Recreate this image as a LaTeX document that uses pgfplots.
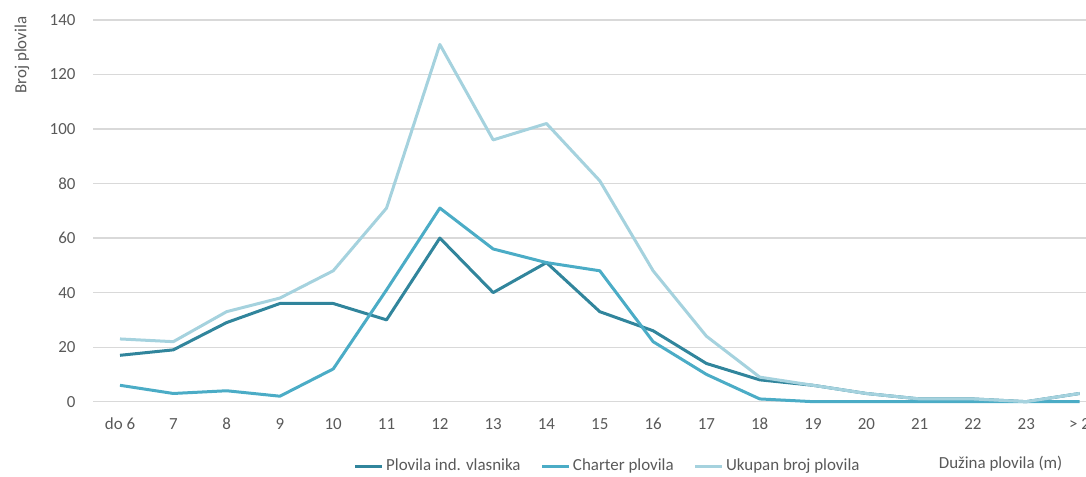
\documentclass[border=0pt]{standalone}
\usepackage{pgfplots}
\pgfplotsset{compat=1.18}
\usepackage{fontspec}
\setmainfont{Carlito}
\definecolor{cInd}{HTML}{31859C}
\definecolor{cCh}{HTML}{4BACC6}
\definecolor{cTot}{HTML}{A5D2DE}
\definecolor{cGrid}{HTML}{D9D9D9}
\definecolor{cTxt}{HTML}{595959}
\begin{document}
\fontsize{12.7pt}{15pt}\selectfont
\begin{tikzpicture}
\path[use as bounding box] (0,0) rectangle (814.5pt,357.75pt);
\begin{axis}[
  at={(70pt,56.5pt)}, anchor=south west,
  scale only axis, width=744.5pt, height=286.3pt,
  xmin=-0.5, xmax=18.12, ymin=0, ymax=140,
  ytick={0,20,...,140},
  xtick={0,...,18},
  xticklabels={do 6,7,8,9,10,11,12,13,14,15,16,17,18,19,20,21,22,23,> 2},
  axis line style={draw=none},
  major tick length=0pt,
  ymajorgrids, grid style={cGrid, line width=0.9pt},
  tick label style={font=\fontsize{12.7pt}{15pt}\selectfont, text=cTxt},
  /pgf/number format/assume math mode=true,
  yticklabel style={xshift=-9pt},
  xticklabel style={yshift=-8pt},
  ylabel={Broj plovila},
  ylabel style={at={(axis description cs:-0.0719,0.908)}, anchor=center, rotate=0, font=\fontsize{12.7pt}{15pt}\selectfont, text=cTxt},
  xlabel={Dužina plovila (m)},
  xlabel style={at={(axis description cs:0.914,-0.163)}, anchor=center, font=\fontsize{12.7pt}{15pt}\selectfont, text=cTxt},
  legend columns=3,
  legend style={at={(axis description cs:0.5185,-0.169)}, anchor=center, draw=none, fill=none,
    font=\fontsize{12.7pt}{15pt}\selectfont, text=cTxt,
    /tikz/every even column/.append style={column sep=13pt}},
  legend image code/.code={\draw[#1, line width=2.25pt] (0pt,0pt) -- (20pt,0pt);},
  clip=false,
]
\addplot[cInd, line width=2.25pt, line join=round] coordinates {
(0,17)(1,19)(2,29)(3,36)(4,36)(5,30)(6,60)(7,40)(8,51)(9,33)(10,26)(11,14)(12,8)(13,6)(14,3)(15,1)(16,1)(17,0)(18,3)};
\addlegendentry{Plovila ind. vlasnika}
\addplot[cCh, line width=2.25pt, line join=round] coordinates {
(0,6)(1,3)(2,4)(3,2)(4,12)(5,41)(6,71)(7,56)(8,51)(9,48)(10,22)(11,10)(12,1)(13,0)(14,0)(15,0)(16,0)(17,0)(18,0)};
\addlegendentry{Charter plovila}
\addplot[cTot, line width=2.25pt, line join=round] coordinates {
(0,23)(1,22)(2,33)(3,38)(4,48)(5,71)(6,131)(7,96)(8,102)(9,81)(10,48)(11,24)(12,9)(13,6)(14,3)(15,1)(16,1)(17,0)(18,3)};
\addlegendentry{Ukupan broj plovila}
\end{axis}
\end{tikzpicture}
\end{document}
